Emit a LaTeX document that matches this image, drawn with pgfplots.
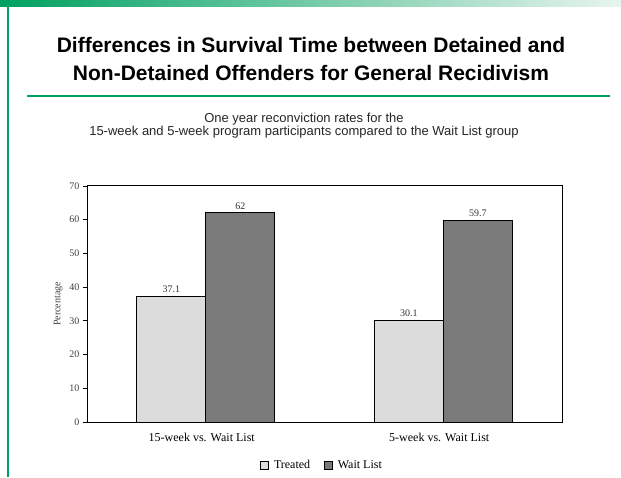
\documentclass[border=0pt]{standalone}
\usepackage{pgfplots}
\pgfplotsset{compat=1.18}
\usepackage{fontspec}
\setmainfont{Liberation Serif}
\newfontfamily\arial{Liberation Sans}
\newfontfamily\tnr{Liberation Serif}
\definecolor{slidegreen}{HTML}{00A060}
\definecolor{bandlight}{HTML}{E8F5EE}
\definecolor{treated}{HTML}{DCDCDC}
\definecolor{waitlist}{HTML}{7A7A7A}
\begin{document}
\begin{tikzpicture}[x=1pt,y=1pt]
\fill[white] (0,0) rectangle (621,477);
% top band
\shade[left color=slidegreen, right color=bandlight] (0,470) rectangle (621,477);
% left vertical line
\draw[slidegreen, line width=1.2pt] (8,0) -- (8,470);
% slide title
\node[font=\arial\bfseries\fontsize{21}{21}\selectfont, anchor=center] at (311,432) {Differences in Survival Time between Detained and};
\node[font=\arial\bfseries\fontsize{21}{21}\selectfont, anchor=center] at (311,404) {Non-Detained Offenders for General Recidivism};
\draw[slidegreen, line width=2.5pt] (27,381) -- (610,381);
% chart title
\node[font=\arial\fontsize{13}{13}\selectfont, text=black!85] at (304,358) {One year reconviction rates for the};
\node[font=\arial\fontsize{13}{13}\selectfont, text=black!85] at (304,345) {15-week and 5-week program participants compared to the Wait List group};
\begin{axis}[
  at={(87pt,55pt)}, anchor=south west,
  scale only axis, width=475pt, height=236pt,
  ybar=0pt, bar width=69pt,
  xmin=-0.5, xmax=1.5, ymin=0, ymax=70,
  ytick={0,10,...,70},
  xtick={0,1},
  xticklabels={15-week vs. Wait List, 5-week vs. Wait List},
  major x tick style={draw=none},
  extra x ticks={-0.5,0.5,1.5},
  extra x tick labels={},
  extra x tick style={tick style={draw=black, line width=0.8pt}},
  tick pos=left,
  tick align=outside,
  major tick length=4pt,
  ytick style={draw=black, line width=0.8pt},
  axis line style={line width=1pt},
  /pgf/number format/assume math mode=true,
  yticklabel style={font=\tnr\fontsize{10}{10}\selectfont, text=black!75},
  xticklabel style={font=\tnr\fontsize{12}{12}\selectfont, yshift=-4pt, xshift=-4pt},
  ylabel={Percentage},
  ylabel style={font=\tnr\fontsize{10}{10}\selectfont, text=black!75},
  nodes near coords,
  every node near coord/.append style={font=\tnr\fontsize{10}{10}\selectfont, text=black!80, /pgf/number format/assume math mode=true},
  legend style={at={(0.495,-0.182)}, anchor=center, draw=none, legend columns=2,
    font=\tnr\fontsize{12}{12}\selectfont,
    /tikz/every odd column/.append style={column sep=3pt},
    /tikz/every even column/.append style={column sep=12pt}},
  legend image code/.code={\draw[#1, draw=black, line width=0.6pt] (0pt,-4pt) rectangle (8pt,4pt);},
  clip=false,
]
\addplot[fill=treated, draw=black, line width=1pt] coordinates {(0,37.1) (1,30.1)};
\addplot[fill=waitlist, draw=black, line width=1pt] coordinates {(0,62) (1,59.7)};
\legend{Treated, Wait List}
\end{axis}
\pgfresetboundingbox
\path[use as bounding box] (0,0) rectangle (621,477);
\end{tikzpicture}
\end{document}
